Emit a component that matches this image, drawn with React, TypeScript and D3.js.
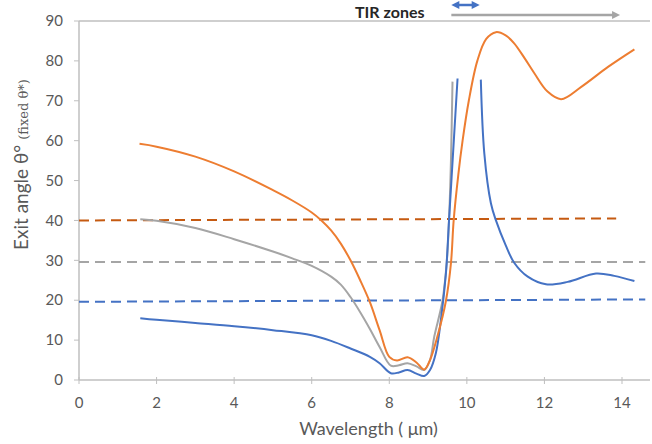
import React, { useEffect, useRef } from 'react';
import * as d3 from 'd3';

const width = 652;
const height = 444;
const fontFamily = 'Lato, "Open Sans", sans-serif';
const textColor = '#595959';

// axis ticks
const xTicks = [0, 2, 4, 6, 8, 10, 12, 14];
const yTicks = [0, 10, 20, 30, 40, 50, 60, 70, 80, 90];

// solid curves [wavelength, angle]
const orangeCurve: [number, number][] = [
    [1.56, 59.2], [2, 58.5], [3, 56.0], [4, 52.3], [5, 47.6], [5.5, 45.0], [6, 42.0],
    [6.25, 40.0], [6.5, 37.5], [6.75, 34.2], [7, 30.0], [7.25, 25.0], [7.5, 19.5],
    [7.75, 12.5], [8.0, 5.8], [8.2, 4.9], [8.47, 5.7],
    [8.7, 4.4], [8.9, 2.6], [9.05, 5.0], [9.24, 10.9], [9.46, 19.8], [9.59, 29.3], [9.66, 40],
    [9.78, 51.5], [9.89, 60], [10.05, 70], [10.27, 80], [10.5, 85.5], [10.75, 87.2],
    [11.0, 86.4], [11.22, 84.4], [11.5, 80.5], [11.74, 76.9], [12.08, 72.3], [12.43, 70.4],
    [12.95, 73.5], [13.64, 78.5], [14.32, 82.9]
];

const grayCurve: [number, number][] = [
    [1.58, 40.3], [2, 39.9], [3, 38.1], [4, 35.3], [5, 32.2], [5.5, 30.5], [6, 28.6],
    [6.5, 25.9], [6.75, 23.9], [7.0, 20.8], [7.25, 17.0], [7.5, 12.8], [7.75, 8.3],
    [8.04, 3.6], [8.25, 3.7], [8.47, 4.2], [8.7, 3.4],
    [8.9, 2.5], [9.05, 5.0], [9.16, 10.9], [9.37, 19.8], [9.48, 29.3], [9.54, 40],
    [9.59, 55], [9.63, 74.8]
];

const blueCurve: [number, number][] = [
    [1.58, 15.5], [2, 15.1], [3, 14.3], [4, 13.5], [5, 12.5], [6, 11.2], [6.5, 9.8],
    [7, 7.9], [7.5, 5.8], [7.75, 4.2], [8.04, 1.7], [8.25, 1.9], [8.47, 2.5], [8.7, 1.6], [8.9, 1.0],
    [9.05, 2.5], [9.2, 6.7], [9.33, 15], [9.46, 26.7], [9.54, 40], [9.67, 61], [9.76, 75.6]
];

const blueCurveTail: [number, number][] = [
    [10.36, 75.3], [10.45, 56.8], [10.62, 44.3], [10.75, 40], [11.0, 33.8], [11.22, 29.4],
    [11.57, 25.9], [12.04, 24.0], [12.6, 24.6], [13.33, 26.7], [13.8, 26.1], [14.32, 24.8]
];

// dashed reference lines
const orangeDashed: [number, number][] = [[0, 40.0], [13.85, 40.5]];
const grayDashed: [number, number][] = [[0, 29.6], [14.6, 29.6]];
const blueDashed: [number, number][] = [[0, 19.6], [14.6, 20.2]];

// TIR zone arrows (wavelength ranges)
const tirBlue = [9.6, 10.33];
const tirGray = [9.6, 13.95];

function App() {
    const ref = useRef<SVGSVGElement>(null);

    useEffect(() => {
        const svg = d3.select(ref.current);
        svg.selectAll('*').remove();

        const x = d3.scaleLinear().domain([0, 14]).range([79, 622]);
        const y = d3.scaleLinear().domain([0, 90]).range([380, 21]);
        const xEnd = 650;

        const defs = svg.append('defs');
        const marker = (id: string, color: string, orient: string) => {
            defs.append('marker')
                .attr('id', id)
                .attr('viewBox', '0 0 10 10')
                .attr('refX', 5).attr('refY', 5)
                .attr('markerWidth', 9).attr('markerHeight', 8)
                .attr('markerUnits', 'userSpaceOnUse')
                .attr('orient', orient)
                .append('path')
                .attr('d', 'M0,0 L10,5 L0,10 z')
                .attr('fill', color);
        };
        marker('arrowGray', '#a5a5a5', 'auto');
        marker('arrowBlue', '#4472c4', 'auto-start-reverse');

        // axes
        svg.append('line')
            .attr('x1', x(0)).attr('x2', xEnd)
            .attr('y1', y(0)).attr('y2', y(0))
            .attr('stroke', '#bfbfbf').attr('stroke-width', 1.5);
        svg.append('line')
            .attr('x1', x(0)).attr('x2', xEnd)
            .attr('y1', y(90)).attr('y2', y(90))
            .attr('stroke', '#bfbfbf').attr('stroke-width', 1.5);
        svg.append('line')
            .attr('x1', x(0)).attr('x2', x(0))
            .attr('y1', y(0)).attr('y2', y(90))
            .attr('stroke', '#bfbfbf').attr('stroke-width', 1.5);

        svg.append('g').selectAll('line').data(xTicks).join('line')
            .attr('x1', d => x(d)).attr('x2', d => x(d))
            .attr('y1', y(0) - 3).attr('y2', y(0) + 4)
            .attr('stroke', '#bfbfbf').attr('stroke-width', 1);
        svg.append('g').selectAll('line').data(yTicks).join('line')
            .attr('x1', x(0) - 5).attr('x2', x(0))
            .attr('y1', d => y(d)).attr('y2', d => y(d))
            .attr('stroke', '#bfbfbf').attr('stroke-width', 1);

        svg.append('g').selectAll('text').data(xTicks).join('text')
            .attr('x', d => x(d)).attr('y', 408)
            .attr('text-anchor', 'middle')
            .attr('font-family', fontFamily).attr('font-size', 15)
            .attr('fill', textColor)
            .text(d => d);
        svg.append('g').selectAll('text').data(yTicks).join('text')
            .attr('x', 63).attr('y', d => y(d))
            .attr('dy', '0.35em')
            .attr('text-anchor', 'end')
            .attr('font-family', fontFamily).attr('font-size', 15)
            .attr('fill', textColor)
            .text(d => d);

        // axis titles
        svg.append('text')
            .attr('x', (x(0) + xEnd) / 2 + 4).attr('y', 435)
            .attr('text-anchor', 'middle')
            .attr('font-family', fontFamily).attr('font-size', 18)
            .attr('fill', textColor)
            .text('Wavelength ( \u03bcm)');

        const yTitle = svg.append('text')
            .attr('transform', 'translate(28,250) rotate(-90)')
            .attr('font-family', fontFamily)
            .attr('fill', textColor);
        yTitle.append('tspan').attr('font-size', 19).text('Exit angle \u03b8\u00b0');
        yTitle.append('tspan').attr('font-size', 13).attr('dx', 5)
            .attr('font-family', '"DejaVu Serif", serif')
            .text('(fixed \u03b8*)');

        // dashed lines
        const line = d3.line<[number, number]>().x(d => x(d[0])).y(d => y(d[1]));
        const dashed: [[number, number][], string][] = [
            [orangeDashed, '#c55a11'],
            [grayDashed, '#a5a5a5'],
            [blueDashed, '#4472c4']
        ];
        dashed.forEach(([data, color]) => {
            svg.append('path')
                .attr('d', line(data))
                .attr('fill', 'none')
                .attr('stroke', color)
                .attr('stroke-width', 2)
                .attr('stroke-dasharray', '10 6');
        });

        // solid curves
        const curve = d3.line<[number, number]>()
            .x(d => x(d[0])).y(d => y(d[1]))
            .curve(d3.curveCatmullRom.alpha(0.5));
        const solid: [[number, number][], string][] = [
            [grayCurve, '#a5a5a5'],
            [blueCurve, '#4472c4'],
            [blueCurveTail, '#4472c4'],
            [orangeCurve, '#ed7d31']
        ];
        solid.forEach(([data, color]) => {
            svg.append('path')
                .attr('d', curve(data))
                .attr('fill', 'none')
                .attr('stroke', color)
                .attr('stroke-width', 2);
        });

        // TIR zones annotation
        svg.append('text')
            .attr('x', 355).attr('y', 18)
            .attr('font-family', fontFamily).attr('font-size', 16)
            .attr('font-weight', 'bold')
            .attr('fill', '#262626')
            .text('TIR zones');
        svg.append('line')
            .attr('x1', x(tirGray[0])).attr('x2', x(tirGray[1]) - 4)
            .attr('y1', 15).attr('y2', 15)
            .attr('stroke', '#a5a5a5').attr('stroke-width', 2.5)
            .attr('marker-end', 'url(#arrowGray)');
        svg.append('line')
            .attr('x1', x(tirBlue[0]) + 4).attr('x2', x(tirBlue[1]) - 4)
            .attr('y1', 5).attr('y2', 5)
            .attr('stroke', '#4472c4').attr('stroke-width', 2.5)
            .attr('marker-start', 'url(#arrowBlue)')
            .attr('marker-end', 'url(#arrowBlue)');
    }, []);

    return (
        <svg
            ref={ref}
            width={width}
            height={height}
            style={{ position: 'absolute', left: 0, top: 0, background: '#fff' }}
        />
    );
}

export default App;
